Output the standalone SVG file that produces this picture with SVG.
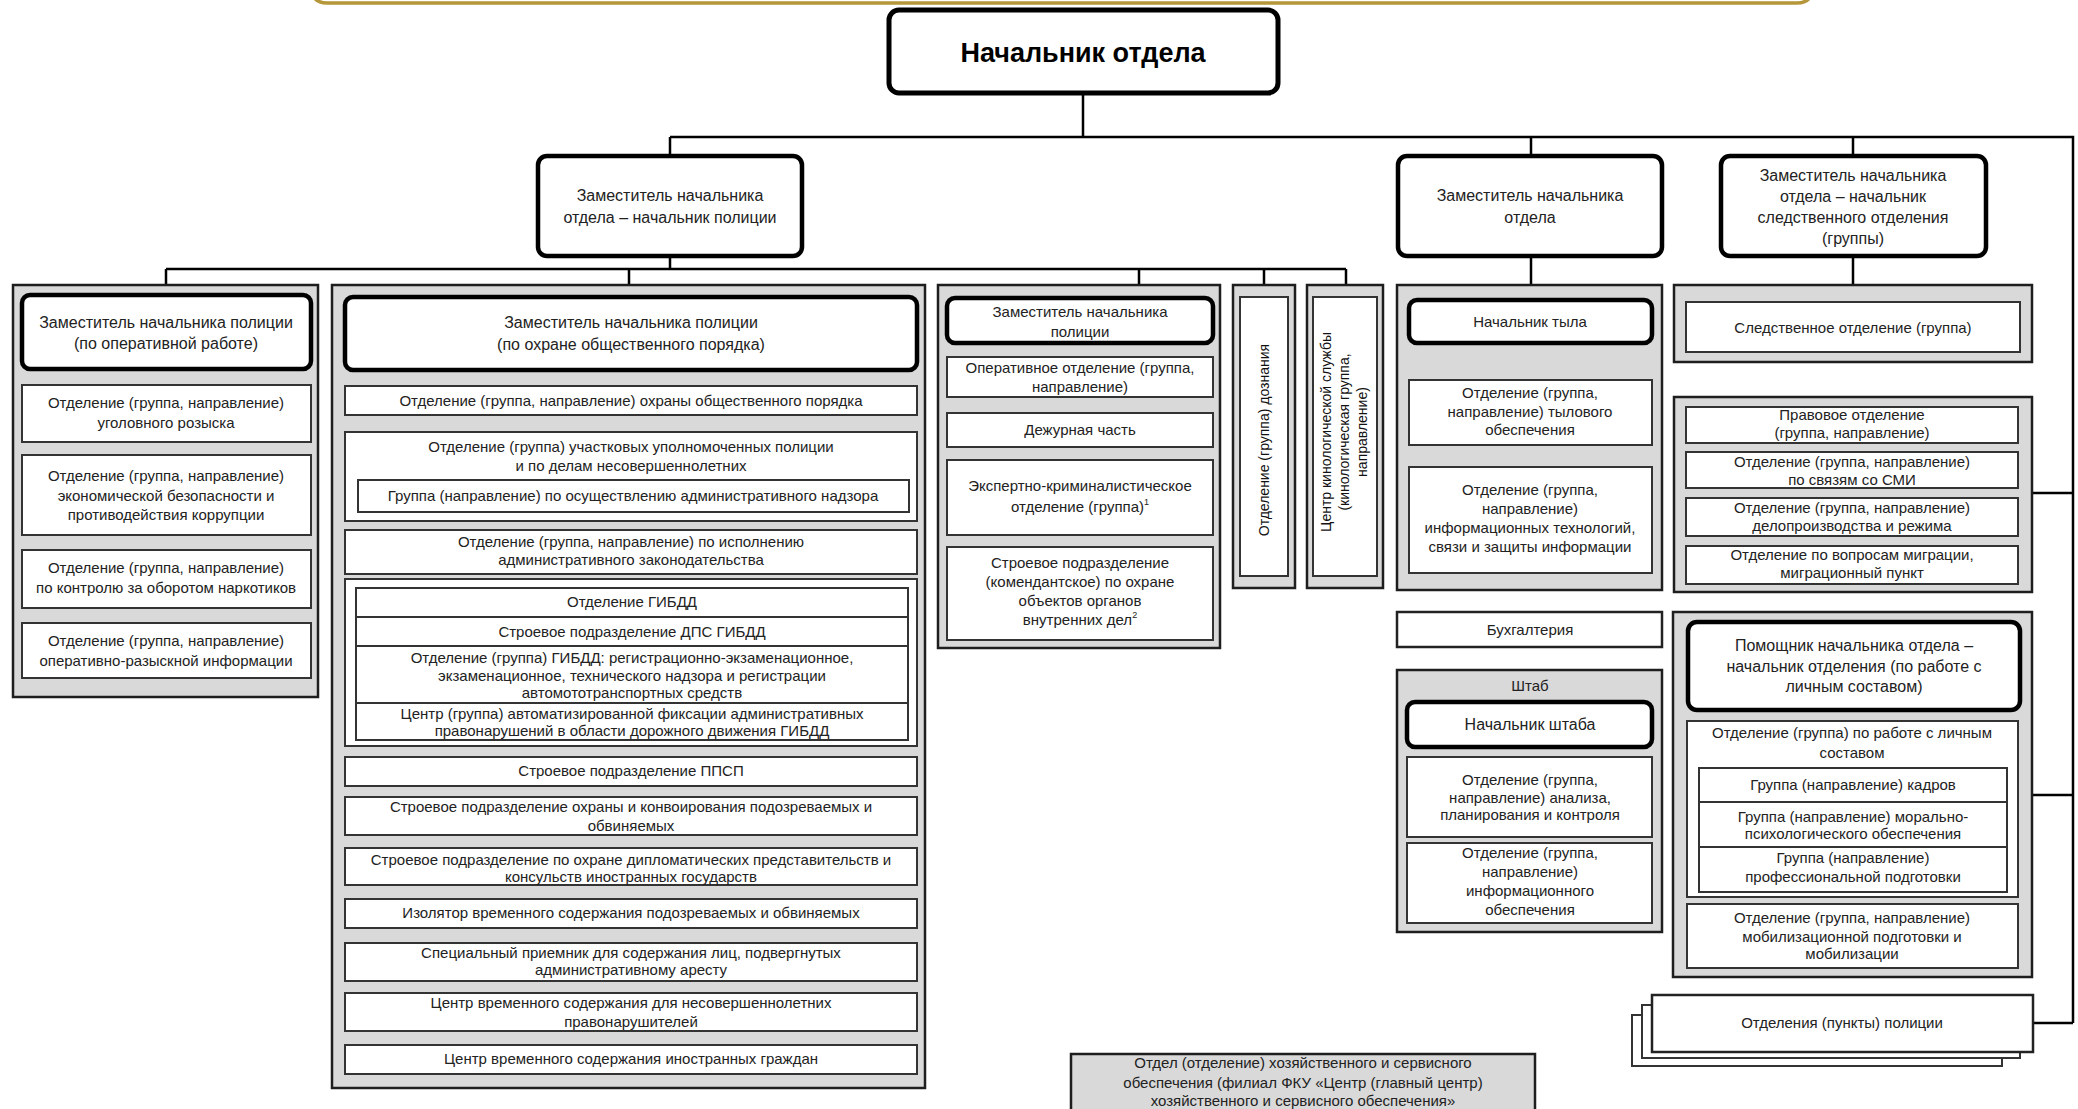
<svg xmlns="http://www.w3.org/2000/svg" width="2078" height="1109" viewBox="0 0 2078 1109">
<style>
.g{fill:#d9d9d9;stroke:#1e1e1e;stroke-width:2.5}
.b{fill:#fff;stroke:#333;stroke-width:2}
.h{fill:#fff;stroke:#000;stroke-width:4.5}
.c{stroke:#000;stroke-width:2.5;fill:none}
text{font-family:"Liberation Sans",Arial,sans-serif;font-size:15px;fill:#222;text-anchor:middle}
.m{font-size:16px}
.s{font-size:9px}
</style>
<rect width="2078" height="1109" fill="#fff"/>
<path d="M312,-12 Q312,3 327,3 L1797,3 Q1812,3 1812,-12" fill="none" stroke="#b5973a" stroke-width="3.5"/>

<g id="connectors" class="c">
<path d="M1083,95 V137 M670,137 H2073 V1023 M670,137 V155 M1531,137 V155 M1853,137 V155"/>
<path d="M670,257 V269 M166,269 H1346 M166,269 V285 M629,269 V285 M1139,269 V285 M1264,269 V285 M1346,269 V285"/>
<path d="M1531,257 V285 M1853,257 V285"/>
<path d="M2032,493 H2073 M2032,795 H2073 M2033,1023 H2073"/>
</g>

<g id="chief">
<rect x="889" y="10" width="389" height="83" rx="10" fill="#fff" stroke="#000" stroke-width="5"/>
<text x="1083" y="62" style="font-size:27px;font-weight:bold;fill:#000">Начальник отдела</text>
</g>

<g id="dep-police">
<rect class="h" x="538" y="156" width="264" height="100" rx="9"/>
<text class="m" x="670" y="201">Заместитель  начальника</text>
<text class="m" x="670" y="223">отдела – начальник полиции</text>
</g>
<g id="dep-dept">
<rect class="h" x="1398" y="156" width="264" height="100" rx="9"/>
<text class="m" x="1530" y="201">Заместитель начальника</text>
<text class="m" x="1530" y="223">отдела</text>
</g>
<g id="dep-investig">
<rect class="h" x="1721" y="156" width="265" height="100" rx="9"/>
<text class="m" x="1853" y="181">Заместитель начальника</text>
<text class="m" x="1853" y="202">отдела – начальник</text>
<text class="m" x="1853" y="223">следственного отделения</text>
<text class="m" x="1853" y="244">(группы)</text>
</g>

<g id="col-operative">
<rect class="g" x="13" y="285" width="305" height="412"/>
<rect class="h" x="22" y="295" width="289" height="74" rx="8"/>
<text class="m" x="166" y="328">Заместитель начальника полиции</text>
<text class="m" x="166" y="349">(по оперативной работе)</text>
<rect class="b" x="22" y="385" width="289" height="57"/>
<text x="166" y="408">Отделение (группа, направление)</text>
<text x="166" y="428">уголовного розыска</text>
<rect class="b" x="22" y="455" width="289" height="80"/>
<text x="166" y="481">Отделение (группа, направление)</text>
<text x="166" y="501">экономической безопасности и</text>
<text x="166" y="520">противодействия коррупции</text>
<rect class="b" x="22" y="550" width="289" height="58"/>
<text x="166" y="573">Отделение (группа, направление)</text>
<text x="166" y="593">по контролю за оборотом наркотиков</text>
<rect class="b" x="22" y="623" width="289" height="55"/>
<text x="166" y="646">Отделение (группа, направление)</text>
<text x="166" y="666">оперативно-разыскной информации</text>
</g>

<g id="col-order">
<rect class="g" x="332" y="285" width="593" height="803"/>
<rect class="h" x="345" y="297" width="572" height="73" rx="8"/>
<text class="m" x="631" y="328">Заместитель начальника полиции</text>
<text class="m" x="631" y="350">(по охране общественного порядка)</text>
<rect class="b" x="345" y="386" width="572" height="29"/>
<text x="631" y="406">Отделение (группа, направление) охраны общественного порядка</text>
<rect class="b" x="345" y="432" width="572" height="89"/>
<text x="631" y="452">Отделение (группа) участковых уполномоченных полиции</text>
<text x="631" y="471">и по делам несовершеннолетних</text>
<rect class="b" x="358" y="480" width="551" height="32"/>
<text x="633" y="501">Группа (направление) по осуществлению административного надзора</text>
<rect class="b" x="345" y="530" width="572" height="44"/>
<text x="631" y="547">Отделение (группа, направление) по исполнению</text>
<text x="631" y="565">административного законодательства</text>
<rect class="b" x="345" y="579" width="572" height="167"/>
<rect class="b" x="356" y="588" width="552" height="29"/>
<text x="632" y="607">Отделение ГИБДД</text>
<rect class="b" x="356" y="617" width="552" height="29"/>
<text x="632" y="637">Строевое подразделение ДПС ГИБДД</text>
<rect class="b" x="356" y="646" width="552" height="57"/>
<text x="632" y="663">Отделение (группа) ГИБДД: регистрационно-экзаменационное,</text>
<text x="632" y="681">экзаменационное, технического надзора и регистрации</text>
<text x="632" y="698">автомототранспортных средств</text>
<rect class="b" x="356" y="703" width="552" height="37"/>
<text x="632" y="719">Центр (группа) автоматизированной фиксации административных</text>
<text x="632" y="736">правонарушений в области дорожного движения ГИБДД</text>
<rect class="b" x="345" y="757" width="572" height="29"/>
<text x="631" y="776">Строевое подразделение ППСП</text>
<rect class="b" x="345" y="797" width="572" height="38"/>
<text x="631" y="812">Строевое подразделение охраны и конвоирования подозреваемых и</text>
<text x="631" y="831">обвиняемых</text>
<rect class="b" x="345" y="848" width="572" height="37"/>
<text x="631" y="865">Строевое подразделение по охране дипломатических представительств и</text>
<text x="631" y="882">консульств иностранных государств</text>
<rect class="b" x="345" y="899" width="572" height="29"/>
<text x="631" y="918">Изолятор временного содержания подозреваемых и обвиняемых</text>
<rect class="b" x="345" y="943" width="572" height="38"/>
<text x="631" y="958">Специальный приемник для содержания лиц, подвергнутых</text>
<text x="631" y="975">административному аресту</text>
<rect class="b" x="345" y="993" width="572" height="38"/>
<text x="631" y="1008">Центр временного содержания для несовершеннолетних</text>
<text x="631" y="1027">правонарушителей</text>
<rect class="b" x="345" y="1045" width="572" height="29"/>
<text x="631" y="1064">Центр временного содержания иностранных граждан</text>
</g>

<g id="col-police-deputy">
<rect class="g" x="938" y="285" width="282" height="363"/>
<rect class="h" x="947" y="298" width="266" height="45" rx="8"/>
<text x="1080" y="317">Заместитель начальника</text>
<text x="1080" y="337">полиции</text>
<rect class="b" x="947" y="357" width="266" height="40"/>
<text x="1080" y="373">Оперативное отделение (группа,</text>
<text x="1080" y="392">направление)</text>
<rect class="b" x="947" y="413" width="266" height="34"/>
<text x="1080" y="435">Дежурная часть</text>
<rect class="b" x="947" y="460" width="266" height="75"/>
<text x="1080" y="491">Экспертно-криминалистическое</text>
<text x="1080" y="512">отделение (группа)<tspan class="s" dy="-7">1</tspan></text>
<rect class="b" x="947" y="547" width="266" height="93"/>
<text x="1080" y="568">Строевое подразделение</text>
<text x="1080" y="587">(комендантское) по охране</text>
<text x="1080" y="606">объектов органов</text>
<text x="1080" y="625">внутренних дел<tspan class="s" dy="-7">2</tspan></text>
</g>

<g id="col-inquiry">
<rect class="g" x="1233" y="285" width="62" height="303"/>
<rect class="b" x="1240" y="297" width="48" height="279"/>
<text transform="translate(1264,440) rotate(-90)" x="0" y="5" style="font-size:14px;fill:#111">Отделение (группа) дознания</text>
</g>

<g id="col-canine">
<rect class="g" x="1307" y="285" width="76" height="303"/>
<rect class="b" x="1313" y="297" width="64" height="279"/>
<text transform="translate(1345,432) rotate(-90)" style="font-size:14px;fill:#111"><tspan x="0" y="-14">Центр кинологической службы</tspan><tspan x="0" y="4">(кинологическая группа,</tspan><tspan x="0" y="22">направление)</tspan></text>
</g>

<g id="col-rear">
<rect class="g" x="1397" y="285" width="265" height="305"/>
<rect class="h" x="1409" y="300" width="243" height="43" rx="8"/>
<text x="1530" y="327">Начальник тыла</text>
<rect class="b" x="1409" y="380" width="243" height="65"/>
<text x="1530" y="398">Отделение (группа,</text>
<text x="1530" y="417">направление) тылового</text>
<text x="1530" y="435">обеспечения</text>
<rect class="b" x="1409" y="467" width="243" height="106"/>
<text x="1530" y="495">Отделение (группа,</text>
<text x="1530" y="514">направление)</text>
<text x="1530" y="533">информационных технологий,</text>
<text x="1530" y="552">связи и защиты информации</text>
</g>

<g id="accounting">
<rect class="b" x="1397" y="612" width="265" height="35" style="stroke:#222;stroke-width:2.5"/>
<text x="1530" y="635">Бухгалтерия</text>
</g>

<g id="staff">
<rect class="g" x="1397" y="670" width="265" height="262"/>
<text x="1530" y="691">Штаб</text>
<rect class="h" x="1407" y="702" width="245" height="45" rx="8"/>
<text class="m" x="1530" y="730">Начальник штаба</text>
<rect class="b" x="1407" y="757" width="245" height="80"/>
<text x="1530" y="785">Отделение (группа,</text>
<text x="1530" y="803">направление) анализа,</text>
<text x="1530" y="820">планирования и контроля</text>
<rect class="b" x="1407" y="843" width="245" height="80"/>
<text x="1530" y="858">Отделение (группа,</text>
<text x="1530" y="877">направление)</text>
<text x="1530" y="896">информационного</text>
<text x="1530" y="915">обеспечения</text>
</g>

<g id="investig">
<rect class="g" x="1674" y="285" width="358" height="77"/>
<rect class="b" x="1686" y="302" width="334" height="50"/>
<text x="1853" y="333">Следственное отделение (группа)</text>
</g>

<g id="services">
<rect class="g" x="1674" y="397" width="358" height="195"/>
<rect class="b" x="1686" y="407" width="332" height="36"/>
<text x="1852" y="420">Правовое отделение</text>
<text x="1852" y="438">(группа, направление)</text>
<rect class="b" x="1686" y="452" width="332" height="36"/>
<text x="1852" y="467">Отделение (группа, направление)</text>
<text x="1852" y="485">по связям со СМИ</text>
<rect class="b" x="1686" y="498" width="332" height="38"/>
<text x="1852" y="513">Отделение (группа, направление)</text>
<text x="1852" y="531">делопроизводства и режима</text>
<rect class="b" x="1686" y="546" width="332" height="38"/>
<text x="1852" y="560">Отделение по вопросам миграции,</text>
<text x="1852" y="578">миграционный пункт</text>
</g>

<g id="personnel">
<rect class="g" x="1673" y="612" width="359" height="365"/>
<rect class="h" x="1688" y="622" width="332" height="88" rx="9"/>
<text class="m" x="1854" y="651">Помощник начальника отдела –</text>
<text class="m" x="1854" y="672">начальник отделения (по работе с</text>
<text class="m" x="1854" y="692">личным составом)</text>
<rect class="b" x="1687" y="721" width="331" height="176"/>
<text x="1852" y="738">Отделение (группа) по работе с личным</text>
<text x="1852" y="758">составом</text>
<rect class="b" x="1699" y="768" width="308" height="34"/>
<text x="1853" y="790">Группа (направление) кадров</text>
<rect class="b" x="1699" y="802" width="308" height="45"/>
<text x="1853" y="822">Группа (направление) морально-</text>
<text x="1853" y="839">психологического обеспечения</text>
<rect class="b" x="1699" y="847" width="308" height="45"/>
<text x="1853" y="863">Группа (направление)</text>
<text x="1853" y="882">профессиональной подготовки</text>
<rect class="b" x="1687" y="904" width="331" height="64"/>
<text x="1852" y="923">Отделение (группа, направление)</text>
<text x="1852" y="942">мобилизационной подготовки и</text>
<text x="1852" y="959">мобилизации</text>
</g>

<g id="police-points">
<rect class="b" x="1632" y="1015" width="370" height="51"/>
<rect class="b" x="1642" y="1005" width="378" height="53"/>
<rect class="b" x="1652" y="995" width="381" height="57" style="stroke:#222;stroke-width:2.5"/>
<text x="1842" y="1028">Отделения (пункты) полиции</text>
</g>

<g id="economic-service">
<rect class="g" x="1071" y="1054" width="464" height="70"/>
<text x="1303" y="1068">Отдел (отделение) хозяйственного и сервисного</text>
<text x="1303" y="1088">обеспечения (филиал ФКУ «Центр (главный центр)</text>
<text x="1303" y="1106">хозяйственного и сервисного обеспечения»</text>
</g>
</svg>
